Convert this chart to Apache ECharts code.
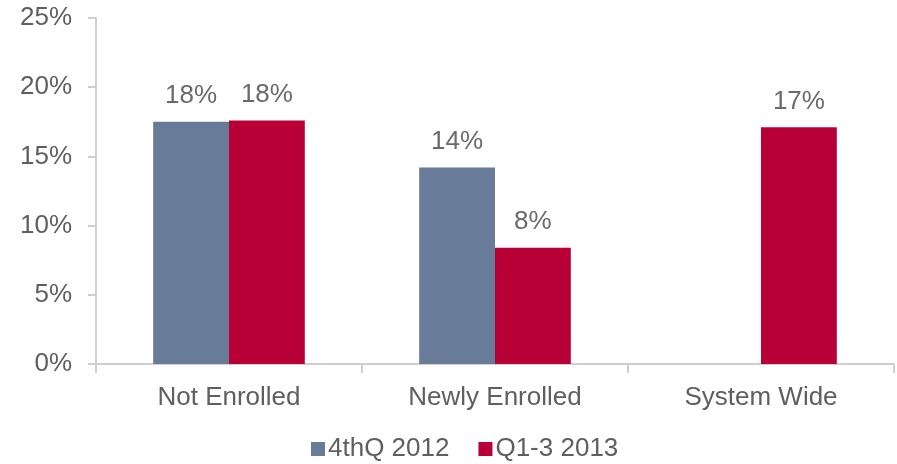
<!DOCTYPE html>
<html>
<head>
<meta charset="utf-8">
<script src="https://cdn.jsdelivr.net/npm/echarts@6/dist/echarts.min.js"></script>
<style>
  html, body { margin: 0; padding: 0; background: #fff; }
  #chart { width: 897px; height: 464px; }
</style>
</head>
<body>
<div id="chart"></div>
<script>
// Enrollment groups and the share (%) for each period
const categories = ['Not Enrolled', 'Newly Enrolled', 'System Wide'];
const seriesNames = ['4thQ 2012', 'Q1-3 2013'];
const q4_2012 = [17.5, 14.2, null];
const q1_3_2013 = [17.6, 8.4, 17.1];
const yTicks = [0, 5, 10, 15, 20, 25];

const colors = ['#687B98', '#B90036'];
const textColor = '#5f5f5f';
const fontFamily = '"Liberation Sans", Arial, sans-serif';
const fontSize = 26;

const chart = echarts.init(document.getElementById('chart'), null, { renderer: 'canvas' });

const barLabel = {
  show: true,
  position: 'top',
  distance: 13,
  color: '#6a6a6a',
  fontSize: fontSize,
  fontFamily: fontFamily,
  formatter: p => (p.value == null ? '' : Math.round(p.value) + '%')
};

chart.setOption({
  animation: false,
  textStyle: { fontFamily: fontFamily },
  grid: { left: 96, right: 3, top: 18, bottom: 100, containLabel: false },
  legend: {
    data: seriesNames,
    top: 431,
    left: 306,
    itemWidth: 14,
    itemHeight: 14,
    itemGap: 29,
    icon: 'rect',
    textStyle: { color: textColor, fontSize: fontSize, fontFamily: fontFamily, padding: [0, 0, 0, -2] }
  },
  xAxis: {
    type: 'category',
    data: categories,
    axisLine: { lineStyle: { color: '#cfcfcf', width: 2 } },
    axisTick: { show: true, length: 9, alignWithLabel: false, lineStyle: { color: '#cfcfcf', width: 2 } },
    axisLabel: { color: textColor, fontSize: fontSize, fontFamily: fontFamily, margin: 21 }
  },
  yAxis: {
    type: 'value',
    min: yTicks[0],
    max: yTicks[yTicks.length - 1],
    interval: 5,
    axisLine: { show: true, lineStyle: { color: '#cfcfcf', width: 2 } },
    axisTick: { show: true, length: 8, lineStyle: { color: '#cfcfcf', width: 2 } },
    splitLine: { show: false },
    axisLabel: {
      color: textColor, fontSize: fontSize, fontFamily: fontFamily, margin: 24,
      formatter: v => v + '%'
    }
  },
  series: [
    {
      name: seriesNames[0],
      type: 'bar',
      data: q4_2012,
      barGap: '0%',
      barCategoryGap: '43%',
      itemStyle: { color: colors[0] },
      label: barLabel
    },
    {
      name: seriesNames[1],
      type: 'bar',
      data: q1_3_2013,
      itemStyle: { color: colors[1] },
      label: barLabel
    }
  ]
});
</script>
</body>
</html>
